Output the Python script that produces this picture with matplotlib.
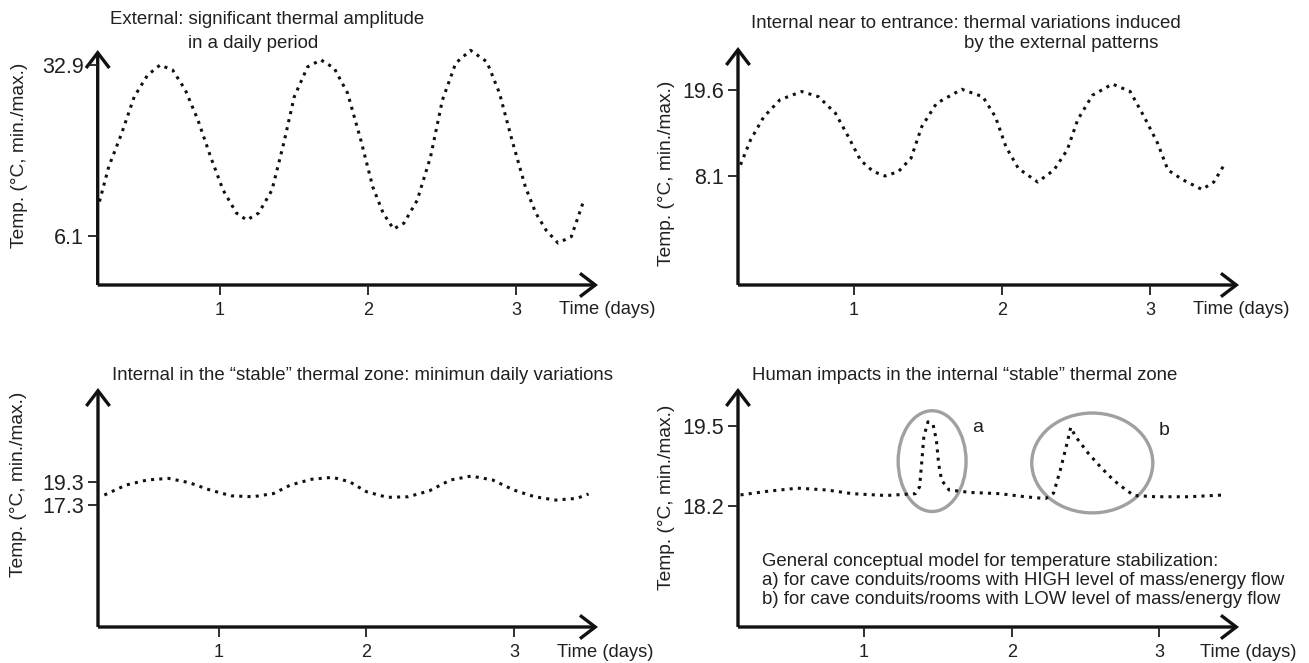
import matplotlib
matplotlib.use("Agg")
import matplotlib.pyplot as plt
from matplotlib.patches import FancyArrowPatch, Ellipse

plt.rcParams['font.family'] = ['Liberation Sans', 'DejaVu Sans']

# ---------------- data ----------------
x_ticks = [1, 2, 3]
x_tick_labels = ["1", "2", "3"]

# Panel 1: external
p1_days = [0.186, 0.249, 0.336, 0.42, 0.51, 0.595, 0.68, 0.765, 0.85, 0.936, 1.02, 1.11, 1.18,
           1.26, 1.35, 1.43, 1.50, 1.59, 1.68, 1.77, 1.86, 1.95, 2.03, 2.10, 2.17, 2.24, 2.33,
           2.42, 2.50, 2.59, 2.69, 2.80, 2.885, 2.97, 3.06, 3.13, 3.20, 3.28, 3.37, 3.45]
p1_temp = [11.5, 17.0, 22.2, 27.9, 31.3, 32.9, 32.1, 29.0, 24.3, 18.5, 13.3, 9.7, 8.6,
           9.7, 13.3, 20.7, 27.9, 32.6, 33.7, 32.4, 28.5, 21.1, 13.8, 9.7, 7.2, 8.1, 11.7,
           18.5, 27.4, 33.2, 35.2, 33.4, 28.5, 21.1, 13.8, 9.7, 7.0, 5.0, 6.0, 11.4]
p1_yticks = [6.1, 32.9]

# Panel 2: internal near to entrance
p2_days = [0.233, 0.30, 0.39, 0.50, 0.646, 0.76, 0.874, 0.96, 1.044, 1.13, 1.21, 1.30, 1.385,
           1.457, 1.556, 1.727, 1.87, 1.955, 2.026, 2.11, 2.24, 2.35, 2.44, 2.51, 2.61, 2.745,
           2.865, 2.96, 3.05, 3.12, 3.22, 3.35, 3.43, 3.50]
p2_temp = [9.6, 12.9, 16.0, 18.3, 19.4, 18.7, 16.5, 13.4, 10.2, 8.7, 8.1, 8.7, 10.5,
           14.7, 17.8, 19.7, 18.7, 16.0, 12.0, 9.1, 7.3, 8.9, 11.6, 15.6, 18.9, 20.4,
           19.4, 16.0, 12.5, 8.9, 7.6, 6.3, 7.3, 9.6]
p2_yticks = [8.1, 19.6]

# Panel 3: internal stable zone
p3_days = [0.223, 0.37, 0.514, 0.657, 0.80, 0.94, 1.085, 1.23, 1.37, 1.485, 1.628, 1.77, 1.885,
           2.00, 2.14, 2.284, 2.427, 2.57, 2.71, 2.855, 3.00, 3.14, 3.283, 3.426, 3.506]
p3_temp = [18.17, 19.04, 19.48, 19.62, 19.24, 18.6, 18.1, 18.02, 18.3, 19.04, 19.54, 19.71, 19.33,
           18.46, 17.97, 18.02, 18.54, 19.48, 19.82, 19.48, 18.6, 18.02, 17.73, 17.88, 18.26]
p3_yticks = [17.3, 19.3]

# Panel 4: human impacts
p4_days = [0.163, 0.35, 0.55, 0.748, 0.92, 1.148, 1.348, 1.376, 1.39, 1.405, 1.433, 1.468, 1.49,
           1.505, 1.525, 1.576, 1.72, 1.92, 2.09, 2.23, 2.284, 2.33, 2.375, 2.40, 2.433, 2.518,
           2.60, 2.69, 2.775, 2.83, 2.975, 3.20, 3.445]
p4_temp = [18.38, 18.44, 18.49, 18.46, 18.40, 18.37, 18.40, 18.51, 18.89, 19.33, 19.57, 19.52, 19.27,
           18.89, 18.62, 18.46, 18.42, 18.40, 18.35, 18.32, 18.41, 18.79, 19.22, 19.48, 19.33, 19.06,
           18.84, 18.62, 18.46, 18.37, 18.35, 18.35, 18.38]
p4_yticks = [18.2, 19.5]

# impact circles: (center day, center temp, width days, height temp, label)
impact_a = (1.461, 18.93, 0.46, 1.64, "a")
impact_b = (2.546, 18.90, 0.82, 1.625, "b")

titles = [
    ["External: significant thermal amplitude", "in a daily period"],
    ["Internal near to entrance: thermal variations induced", "by the external patterns"],
    ["Internal in the \u201cstable\u201d thermal zone: minimun daily variations"],
    ["Human impacts in the internal \u201cstable\u201d thermal zone"],
]
ylabel = "Temp. (\u00b0C, min./max.)"
xlabel = "Time (days)"
note_lines = [
    "General conceptual model for temperature stabilization:",
    "a) for cave conduits/rooms with HIGH level of mass/energy flow",
    "b) for cave conduits/rooms with LOW level of mass/energy flow",
]

# ---------------- layout ----------------
W, H = 1309, 663
fig = plt.figure(figsize=(W / 100, H / 100), dpi=100)
TXT = "#231f20"

def px_axes(x0, y0, x1, y1):
    # x0: y-axis pixel x, x1: arrow tip x, y1: x-axis pixel y, y0: arrow tip y
    return fig.add_axes([x0 / W, 1 - y1 / H, (x1 - x0) / W, (y1 - y0) / H])

panels = [
    dict(box=(97.7, 50, 598, 285), xlim=(0.174, 3.55), ylim=(-1.58, 35.25),
         days=p1_days, temp=p1_temp, yt=p1_yticks, ylab=(-0.157, 0.553), xlab=1.018),
    dict(box=(738, 47, 1239, 285), xlim=(0.216, 3.60), ylim=(-6.47, 25.35),
         days=p2_days, temp=p2_temp, yt=p2_yticks, ylab=(-0.142, 0.47), xlab=1.004),
    dict(box=(98, 388, 598, 627), xlim=(0.18, 3.57), ylim=(6.69, 27.48),
         days=p3_days, temp=p3_temp, yt=p3_yticks, ylab=(-0.158, 0.598), xlab=1.014),
    dict(box=(738, 388, 1239, 627), xlim=(0.146, 3.54), ylim=(16.23, 20.12),
         days=p4_days, temp=p4_temp, yt=p4_yticks, ylab=(-0.142, 0.544), xlab=1.019),
]

axes = []
for p in panels:
    ax = px_axes(*p["box"])
    ax.set_xlim(*p["xlim"])
    ax.set_ylim(*p["ylim"])
    for s in ax.spines.values():
        s.set_visible(False)
    ax.patch.set_alpha(0)
    ax.set_xticks(x_ticks)
    ax.set_xticklabels(x_tick_labels)
    ax.set_yticks(p["yt"])
    ax.set_yticklabels([f"{v:.1f}" for v in p["yt"]])
    ax.tick_params(axis="x", direction="out", length=7, width=1.3, pad=5,
                   labelsize=13, colors=TXT)
    ax.tick_params(axis="y", direction="out", length=7.5, width=1.3, pad=2.5,
                   labelsize=15.5, colors=TXT)
    # axis arrows
    for end in [(1.0, 0.0), (0.0, 1.0)]:
        arr = FancyArrowPatch((0, 0), end, transform=ax.transAxes,
                              arrowstyle="->,head_length=0.55,head_width=0.42",
                              mutation_scale=20, lw=2.4, color="#111111",
                              shrinkA=0, shrinkB=0, clip_on=False,
                              joinstyle="miter", capstyle="butt")
        ax.add_patch(arr)
    ax.plot(p["days"], p["temp"], color="#111111", lw=2.2,
            linestyle=(0, (1, 1.7)), dash_capstyle="butt", clip_on=False)
    ax.text(p["ylab"][0], p["ylab"][1], ylabel, transform=ax.transAxes,
            rotation=90, ha="center", va="center", fontsize=13.8, color=TXT)
    ax.text(p["xlab"], -0.105, xlabel, transform=ax.transAxes, ha="center",
            va="center", fontsize=13.2, color=TXT)
    axes.append(ax)

# titles (figure pixel positions)
def ftext(x, y, s, **kw):
    fig.text(x / W, 1 - y / H, s, color=TXT, **kw)

TS = 13.4
ftext(110, 20, titles[0][0], ha="left", va="center", fontsize=TS)
ftext(188, 44, titles[0][1], ha="left", va="center", fontsize=TS)
ftext(751, 23, titles[1][0], ha="left", va="center", fontsize=TS)
ftext(964, 44, titles[1][1], ha="left", va="center", fontsize=TS)
ftext(112, 376, titles[2][0], ha="left", va="center", fontsize=TS)
ftext(752, 376, titles[3][0], ha="left", va="center", fontsize=TS)

ax4 = axes[3]
for i, line in enumerate(note_lines):
    ftext(762, 561 + i * 19.5, line, ha="left", va="center", fontsize=TS)

for (cx, cy, w, h, lab) in [impact_a, impact_b]:
    ax4.add_patch(Ellipse((cx, cy), w, h, fill=False, ec="#a0a0a0", lw=2.4))
    ax4.text(cx + w / 2 + 0.04, cy + h * 0.33, lab, ha="left", va="center",
             fontsize=14, color=TXT)

fig.savefig("out.png", dpi=100)
